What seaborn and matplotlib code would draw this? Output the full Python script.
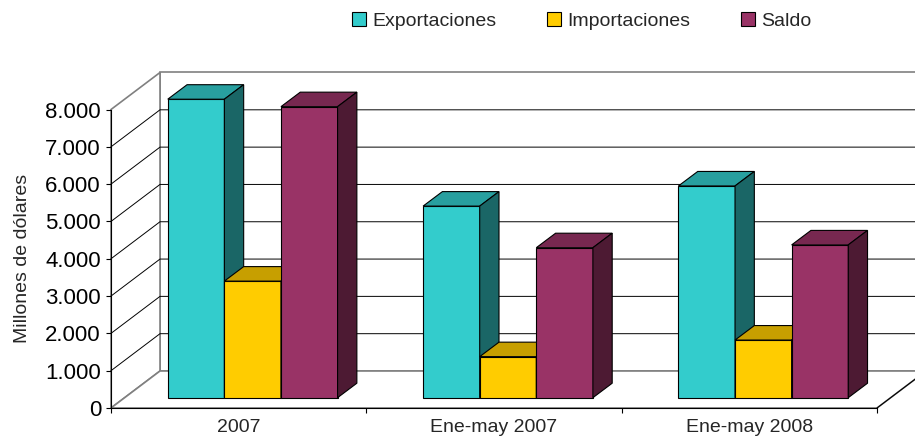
import numpy as np
import pandas as pd
import matplotlib
matplotlib.use('Agg')
import matplotlib.pyplot as plt
import seaborn as sns
from matplotlib.patches import Polygon
from matplotlib.ticker import FuncFormatter, FixedLocator

periodos = ['2007', 'Ene-may 2007', 'Ene-may 2008']
series = ['Exportaciones', 'Importaciones', 'Saldo']
exportaciones = [8000, 5135, 5675]
importaciones = [3125, 1100, 1545]
saldo = [7800, 4020, 4095]
colores = ['#33CCCC', '#FFCC00', '#993366']
y_ticks = [0, 1000, 2000, 3000, 4000, 5000, 6000, 7000, 8000]

df = pd.DataFrame({
    'Periodo': periodos * 3,
    'Serie': np.repeat(series, 3),
    'Valor': exportaciones + importaciones + saldo,
})

sns.set_style('white')
plt.rcParams['font.family'] = ['Liberation Sans', 'DejaVu Sans']
plt.rcParams['font.size'] = 14

W, H = 915, 442
fig = plt.figure(figsize=(W / 100, H / 100), dpi=100)
ax = fig.add_axes([111 / W, (H - 408) / H, 766 / W, 298.5 / H])

sns.barplot(data=df, x='Periodo', y='Valor', hue='Serie', order=periodos, hue_order=series,
            palette=colores, saturation=1, width=0.665, edgecolor='black', linewidth=0.8, ax=ax)
bars = sorted([p for c in ax.containers for p in c], key=lambda p: p.get_x())
ax.set_xlim(-0.5, 2.5)
ax.set_ylim(y_ticks[0], y_ticks[-1])

# pixel -> data scale (axes position is fixed)
sx = ax.transData.transform((1, 0))[0] - ax.transData.transform((0, 0))[0]
sy = ax.transData.transform((0, 1))[1] - ax.transData.transform((0, 0))[1]


def off(x, y, d):
    return (x + d[0] / sx, y + d[1] / sy)


BAR = (14, 10.3)     # bars sit a bit behind the front plane
DEPTH = (19.3, 14.5)  # bar thickness
WALL = (49, 37)      # back wall
grey = '#808080'
x0, x1 = ax.get_xlim()
ymin, ymax = ax.get_ylim()

# walls and floor
back = [off(x0, ymin, WALL), off(x1, ymin, WALL), off(x1, ymax, WALL), off(x0, ymax, WALL)]
left = [(x0, ymin), (x0, ymax), off(x0, ymax, WALL), off(x0, ymin, WALL)]
floor = [(x0, ymin), (x1, ymin), off(x1, ymin, WALL), off(x0, ymin, WALL)]
for poly in (back, left, floor):
    ax.add_patch(Polygon(poly, closed=True, facecolor='white', edgecolor=grey,
                         linewidth=1.2, clip_on=False, zorder=0.5))
for v in y_ticks[1:-1]:
    a = off(x0, v, WALL)
    b = off(x1, v, WALL)
    ax.plot([x0, a[0], b[0]], [v, a[1], b[1]], color='black', lw=0.7, clip_on=False, zorder=0.6)
c = off(x1, ymin, WALL)
ax.plot([x1, c[0]], [ymin, c[1]], color='black', lw=0.8, clip_on=False, zorder=0.6)

# 3D faces for each bar
for i, p in enumerate(bars):
    bx = p.get_x() + BAR[0] / sx
    by = BAR[1] / sy
    w = p.get_width()
    h = p.get_height()
    p.set_x(bx)
    p.set_y(by)
    p.set_clip_on(False)
    z = 3 + i * 0.01
    p.set_zorder(z)
    fc = np.array(matplotlib.colors.to_rgb(p.get_facecolor()))
    top = [(bx, by + h), (bx + w, by + h), off(bx + w, by + h, DEPTH), off(bx, by + h, DEPTH)]
    side = [(bx + w, by), (bx + w, by + h), off(bx + w, by + h, DEPTH), off(bx + w, by, DEPTH)]
    ax.add_patch(Polygon(top, closed=True, facecolor=fc * 0.78, edgecolor='black',
                         linewidth=0.8, clip_on=False, zorder=z))
    ax.add_patch(Polygon(side, closed=True, facecolor=fc * 0.5, edgecolor='black',
                         linewidth=0.8, clip_on=False, zorder=z))

sns.despine(ax=ax, top=True, right=True)
for s in ('left', 'bottom'):
    ax.spines[s].set_color('black')
    ax.spines[s].set_linewidth(0.8)

ax.yaxis.set_major_locator(FixedLocator(y_ticks))
ax.yaxis.set_major_formatter(FuncFormatter(lambda v, p: f"{int(v):,}".replace(',', '.')))
ax.tick_params(axis='y', left=True, length=3.4, width=0.8, pad=3.8, labelsize=16, colors='black')
ax.xaxis.set_minor_locator(FixedLocator([-0.5, 0.5, 1.5, 2.5]))
ax.tick_params(axis='x', which='major', bottom=True, length=0, pad=8, labelsize=14)
ax.tick_params(axis='x', which='minor', bottom=True, length=3.6, width=0.8, color='black')

ax.set_xlabel('')
ax.set_ylabel('Millones de dólares', fontsize=14)
ax.yaxis.set_label_coords(-0.105, 0.5)

sns.move_legend(ax, 'center', bbox_to_anchor=(582 / W, 1 - 21 / H), bbox_transform=fig.transFigure,
                ncol=3, frameon=False, title=None, handlelength=0.7, handleheight=0.7,
                handletextpad=0.35, columnspacing=2.6, fontsize=14)

fig.savefig('out.png', dpi=100)
